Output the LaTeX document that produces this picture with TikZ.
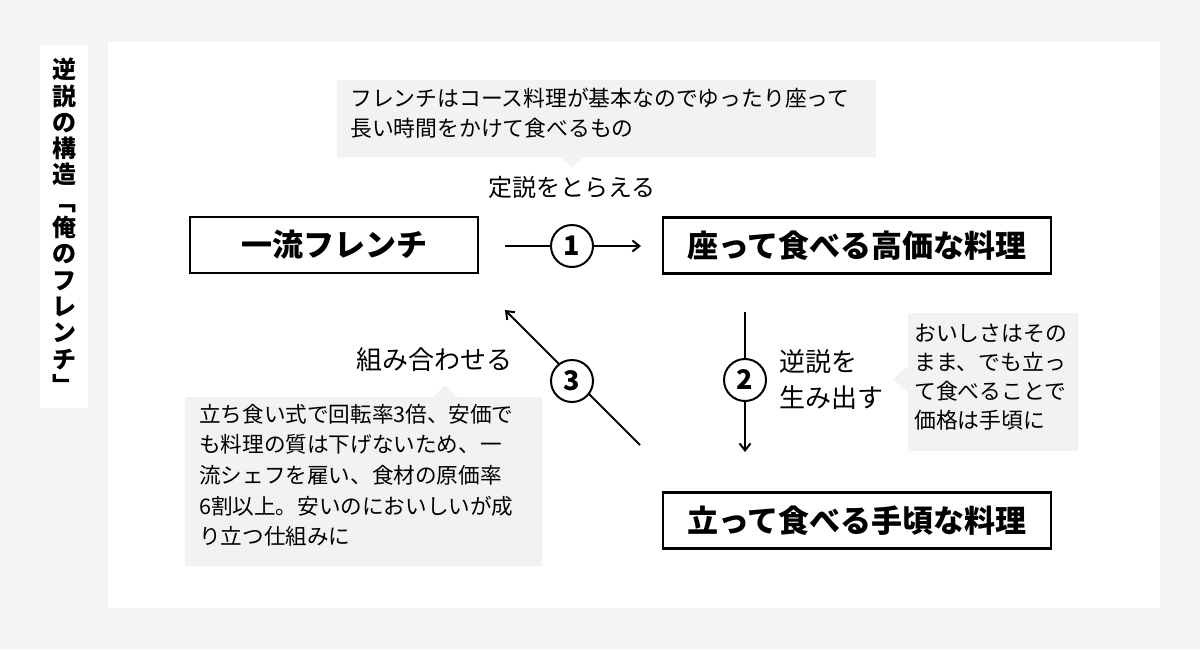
\documentclass[tikz,border=0pt]{standalone}
\usepackage{fontspec}
\setmainfont{Noto Sans CJK JP}
\usetikzlibrary{arrows.meta}
\begin{document}
\begin{tikzpicture}[x=1pt,y=-1pt,
  box/.style={draw=black,line width=2.2pt,fill=white,minimum height=56pt,font=\fontsize{31}{34}\selectfont\bfseries},
  num/.style={circle,draw=black,line width=2pt,fill=white,minimum size=42pt,inner sep=0pt,font=\fontsize{27}{30}\selectfont\bfseries},
  call/.style={fill=black!5,draw=none},
  small/.style={font=\fontsize{21.8}{29.8}\selectfont,align=left,inner sep=0pt,anchor=north west},
  lab/.style={font=\fontsize{26}{36}\selectfont,inner sep=0pt},
  arr/.style={line width=2pt,-{Straight Barb[length=7pt,width=11pt,line width=2pt]}}]
\useasboundingbox (0,0) rectangle (1200,649);
\fill[black!4] (0,0) rectangle (1200,649);
\fill[white] (108,42) rectangle (1160,608);
\fill[white] (40,45) rectangle (88,408);
\node[font=\fontsize{24}{26.3}\selectfont\bfseries,align=center,inner sep=0pt,anchor=north] (title) at (64,58)
  {逆\\説\\の\\構\\造\\﹁\\俺\\の\\フ\\レ\\ン\\チ\\﹂};
% callouts
\fill[call] (337,80) rectangle (876,157) (560,157) -- (572,167) -- (584,157) -- cycle;
\node[small] (c1) at (350,88) {フレンチはコース料理が基本なのでゆったり座って\\長い時間をかけて食べるもの};
\fill[call] (908,313) rectangle (1078,451) (908,366) -- (893,379) -- (908,392) -- cycle;
\node[small,font=\fontsize{21.8}{28.8}\selectfont] (c2) at (914,324) {おいしさはその\\まま、でも立っ\\て食べることで\\価格は手頃に};
\fill[call] (185,397) rectangle (542,566) (433,397) -- (445,385) -- (457,397) -- cycle;
\node[small,font=\fontsize{21.6}{30.6}\selectfont] (c3) at (199,404) {立ち食い式で回転率3倍、安価で\\も料理の質は下げないため、一\\流シェフを雇い、食材の原価率\\6割以上。安いのにおいしいが成\\り立つ仕組みに};
% boxes
\node[box,minimum width=288pt] (b1) at (334,245) {一流フレンチ};
\node[box,minimum width=388pt] (b2) at (857,245.5) {座って食べる高価な料理};
\node[box,minimum width=388pt] (b3) at (857,520.5) {立って食べる手頃な料理};
% arrows
\coordinate (s1) at (505,246); \coordinate (e1) at (641,246);
\coordinate (s2) at (745,312); \coordinate (e2) at (745,452);
\coordinate (s3) at (640,445); \coordinate (e3) at (505,310);
\draw[arr] (s1) -- (e1);
\draw[arr] (s2) -- (e2);
\draw[arr] (s3) -- (e3);
\node[num] (n1) at (572,246) {1};
\node[num] (n2) at (745,380) {2};
\node[num] (n3) at (572,381) {3};
\node[font=\fontsize{24}{26}\selectfont,inner sep=0pt] (l1) at (572,187) {定説をとらえる};
\node[lab,align=left,anchor=west] (l2) at (779,380) {逆説を\\生み出す};
\node[lab] (l3) at (434,360) {組み合わせる};
\end{tikzpicture}
\end{document}
